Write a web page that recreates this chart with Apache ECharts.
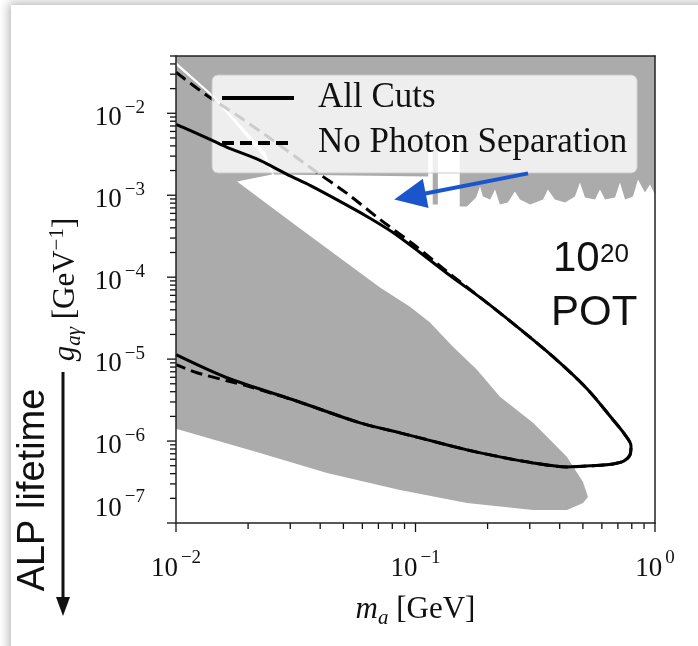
<!DOCTYPE html>
<html>
<head>
<meta charset="utf-8">
<script src="https://cdn.jsdelivr.net/npm/echarts@6/dist/echarts.min.js"></script>
<style>
  html, body { margin: 0; padding: 0; background: #fff; overflow: hidden; }
  .card { position: absolute; left: 11px; top: 5px; width: 760px; height: 720px; background: #fff; box-shadow: 0 0 10px 2px rgba(0,0,0,0.3); }
  #chart { position: absolute; left: 0; top: 0; width: 698px; height: 646px; }
</style>
</head>
<body>
<div class="card"></div>
<div id="chart"></div>
<script>
  // axis ranges and ticks
  const X_MIN = 0.01, X_MAX = 1;
  const Y_MIN = 1e-7, Y_MAX = 0.05;
  const xMajorTicks = [0.01, 0.1, 1];
  const yMajorTicks = [1e-7, 1e-6, 1e-5, 1e-4, 1e-3, 1e-2];

  // sensitivity contours [m_a, g_ay]
  const allCuts = [
    [0.01, 7.34e-3], [0.01144, 6.20e-3], [0.01387, 4.81e-3], [0.01633, 3.84e-3],
    [0.02242, 2.66e-3], [0.02908, 1.796e-3], [0.03627, 1.317e-3], [0.04839, 8.40e-4],
    [0.06272, 5.51e-4], [0.08055, 3.51e-4], [0.1044, 2.00e-4], [0.1393, 1.046e-4],
    [0.1913, 5.32e-5], [0.2653, 2.49e-5], [0.3751, 1.07e-5], [0.5200, 4.35e-6],
    [0.6679, 1.816e-6], [0.7496, 1.191e-6], [0.7940, 8.73e-7], [0.7863, 6.78e-7],
    [0.7424, 5.73e-7], [0.6679, 5.26e-7], [0.5353, 4.98e-7], [0.4291, 4.84e-7],
    [0.3095, 5.41e-7], [0.2253, 6.41e-7], [0.1641, 7.81e-7], [0.1044, 1.094e-6],
    [0.08615, 1.26e-6], [0.05866, 1.669e-6], [0.03080, 3.19e-6], [0.01633, 5.92e-6],
    [0.01, 1.132e-5]
  ];
  const noPhotonSep = [
    [0.01, 0.0317], [0.0136, 0.01613], [0.01798, 9.45e-3], [0.0247, 4.95e-3],
    [0.03879, 1.90e-3], [0.05176, 1.052e-3], [0.07109, 5.06e-4], [0.09952, 2.434e-4],
    [0.1353, 1.171e-4], [0.1913, 5.32e-5], [0.2653, 2.49e-5], [0.3751, 1.07e-5],
    [0.5200, 4.35e-6], [0.6679, 1.816e-6], [0.7496, 1.191e-6], [0.7940, 8.73e-7],
    [0.7863, 6.78e-7], [0.7424, 5.73e-7], [0.6679, 5.26e-7], [0.5353, 4.98e-7],
    [0.4291, 4.84e-7], [0.3095, 5.41e-7], [0.2253, 6.41e-7], [0.1641, 7.81e-7],
    [0.1044, 1.094e-6], [0.08615, 1.26e-6], [0.05866, 1.669e-6], [0.03080, 3.19e-6],
    [0.0247, 3.88e-6], [0.02037, 4.60e-6], [0.01633, 5.45e-6], [0.01224, 6.82e-6],
    [0.01, 8.54e-6]
  ];

  // excluded regions (outlines)
  const upperExcluded = [
    [0.01, 0.05], [1, 0.05], [1, 1.023e-3], [0.953, 1.355e-3], [0.908, 1.082e-3],
    [0.849, 1.56e-3], [0.809, 9.67e-4], [0.750, 8.89e-4], [0.714, 1.434e-3],
    [0.681, 9.40e-4], [0.619, 8.89e-4], [0.589, 1.177e-3], [0.562, 8.89e-4],
    [0.510, 9.40e-4], [0.486, 1.434e-3], [0.463, 9.67e-4], [0.421, 8.17e-4],
    [0.382, 8.89e-4], [0.357, 1.177e-3], [0.341, 8.89e-4], [0.301, 7.72e-4],
    [0.273, 8.89e-4], [0.260, 1.113e-3], [0.243, 8.17e-4], [0.225, 7.72e-4],
    [0.215, 1.177e-3], [0.205, 8.89e-4], [0.191, 9.67e-4], [0.186, 1.281e-3],
    [0.179, 9.40e-4], [0.164, 7.30e-4], [0.153, 7.30e-4], [0.153, 5.54e-3],
    [0.124, 5.54e-3], [0.124, 7.72e-4], [0.118, 7.72e-4], [0.118, 5.54e-3],
    [0.113, 5.54e-3], [0.113, 1.698e-3], [0.0257, 1.796e-3], [0.0235, 3.40e-3],
    [0.0144, 0.01637], [0.01, 0.0421]
  ];
  const beamDumpExcluded = [
    [0.01, 0.0386], [0.0144, 0.01525], [0.02308, 2.98e-3], [0.02517, 1.796e-3],
    [0.01798, 1.475e-3], [0.03294, 3.93e-4], [0.07109, 7.46e-5], [0.09484, 4.37e-5],
    [0.1150, 2.79e-5], [0.1434, 1.418e-5], [0.1806, 7.42e-6], [0.2253, 3.47e-6],
    [0.3095, 1.669e-6], [0.3644, 1.034e-6], [0.4291, 6.41e-7], [0.5004, 3.17e-7],
    [0.5251, 2.08e-7], [0.5004, 1.756e-7], [0.4291, 1.442e-7], [0.3095, 1.442e-7],
    [0.1641, 1.756e-7], [0.08615, 2.53e-7], [0.04271, 4.08e-7], [0.02242, 7.17e-7],
    [0.01, 1.41e-6]
  ];

  // hand drawn blue arrow: tail -> head
  const blueArrow = [[0.295, 1.847e-3], [0.09484, 9.67e-4]];

  const SERIF = 'Liberation Serif';
  const SANS = 'Liberation Sans';
  const GRAY = '#ababab';
  const INK = '#111';

  function minorTicks(majors) {
    const out = [];
    for (const m of majors) for (let k = 2; k <= 9; k++) out.push(+(m * k).toPrecision(3));
    return out;
  }
  const xTicks = xMajorTicks.concat(minorTicks(xMajorTicks)).filter(v => v >= X_MIN && v <= X_MAX);
  const yTicks = yMajorTicks.concat(minorTicks(yMajorTicks)).filter(v => v >= Y_MIN && v <= Y_MAX);
  const isMajor = v => Math.abs(Math.log10(v) - Math.round(Math.log10(v))) < 1e-6;

  function powLabel(v) {
    if (!isMajor(v)) return '';
    const e = Math.round(Math.log10(v));
    const exp = e < 0 ? '\u2212' + (-e) : '' + e;
    // the lowest y label sits a bit higher in the original figure
    if (e === -7) return '{bu|10}{s|' + exp + '}';
    return '{b|10}{s|' + exp + '}';
  }
  const labelRich = {
    b: { fontFamily: SERIF, fontSize: 27, color: INK, lineHeight: 36, verticalAlign: 'bottom' },
    bu: { fontFamily: SERIF, fontSize: 27, color: INK, lineHeight: 77, verticalAlign: 'bottom', padding: [0, 0, 39, 0] },
    s: { fontFamily: SERIF, fontSize: 19, color: INK, verticalAlign: 'top', padding: [3, 0, 0, 3] }
  };
  const nameRich = {
    i: { fontFamily: SERIF, fontStyle: 'italic', fontSize: 31, color: INK, lineHeight: 38 },
    r: { fontFamily: SERIF, fontSize: 31, color: INK, lineHeight: 38 },
    sub: { fontFamily: SERIF, fontStyle: 'italic', fontSize: 21, color: INK, verticalAlign: 'bottom' },
    sup: { fontFamily: SERIF, fontSize: 21, color: INK, verticalAlign: 'top' }
  };

  function regionSeries(name, pts) {
    return {
      type: 'custom', name: name, silent: true, clip: true, z: 1,
      data: pts,
      renderItem(params, api) {
        if (params.dataIndex !== 0) return null;
        const points = [];
        for (let i = 0; i < params.dataInsideLength; i++) {
          points.push(api.coord([api.value(0, i), api.value(1, i)]));
        }
        return { type: 'polygon', shape: { points: points }, style: { fill: GRAY } };
      }
    };
  }

  function tickSeries(name, vals, onX) {
    return {
      type: 'custom', name: name, silent: true, clip: false, z: 5,
      data: vals.map(v => onX ? [v, Y_MIN] : [X_MIN, v]),
      renderItem(params, api) {
        const v = api.value(onX ? 0 : 1);
        const p = api.coord([api.value(0), api.value(1)]);
        const len = isMajor(v) ? 9 : 6;
        const shape = onX
          ? { x1: p[0], y1: p[1], x2: p[0], y2: p[1] + len }
          : { x1: p[0] - len, y1: p[1], x2: p[0], y2: p[1] };
        return { type: 'line', shape: shape, style: { stroke: INK, lineWidth: 1.3 } };
      }
    };
  }

  const chart = echarts.init(document.getElementById('chart'), null, { renderer: 'canvas' });

  const frameAxis = {
    type: 'log', logBase: 10, z: 10,
    axisLine: { show: true, lineStyle: { color: '#222', width: 1.5 } },
    axisTick: { show: false }, axisLabel: { show: false }, splitLine: { show: false }
  };

  const option = {
    backgroundColor: 'transparent',
    animation: false,
    grid: { left: 176, right: 43, top: 56, bottom: 123, outerBoundsMode: 'none' },
    legend: {
      data: ['All Cuts', 'No Photon Separation'],
      orient: 'vertical', left: 212, top: 75,
      itemWidth: 72, itemHeight: 14, itemGap: 9,
      padding: [5, 10, 12, 8],
      backgroundColor: 'rgba(255,255,255,0.8)',
      borderColor: 'rgba(200,200,200,0.9)', borderWidth: 1, borderRadius: 6,
      selectedMode: false,
      itemStyle: { opacity: 0 },
      lineStyle: { width: 4 },
      textStyle: { fontFamily: SERIF, fontSize: 35, color: INK, lineHeight: 36, padding: [0, 0, 0, 19] }
    },
    xAxis: [
      Object.assign({}, frameAxis, {
        min: X_MIN, max: X_MAX, position: 'bottom',
        axisLabel: { show: true, margin: 23, formatter: powLabel, rich: labelRich },
        name: '{i|m}{sub|a}{r| [GeV]}', nameLocation: 'middle', nameGap: 68, nameMoveOverlap: false,
        nameTextStyle: { rich: nameRich }
      }),
      Object.assign({}, frameAxis, { min: X_MIN, max: X_MAX, position: 'top' })
    ],
    yAxis: [
      Object.assign({}, frameAxis, {
        min: Y_MIN, max: Y_MAX, position: 'left',
        axisLabel: { show: true, margin: 31, formatter: powLabel, rich: labelRich },
        name: '{i|g}{sub|a\u03b3}{r| [GeV}{sup|\u22121}{r|]}', nameLocation: 'middle', nameGap: 91, nameMoveOverlap: false,
        nameTextStyle: { rich: nameRich }
      }),
      Object.assign({}, frameAxis, { min: Y_MIN, max: Y_MAX, position: 'right' })
    ],
    series: [
      regionSeries('upper', upperExcluded),
      regionSeries('beamdump', beamDumpExcluded),
      {
        name: 'No Photon Separation', type: 'line', data: noPhotonSep,
        symbol: 'none', smooth: 0.3, z: 3,
        itemStyle: { color: '#000' },
        lineStyle: { color: '#000', width: 3, type: [12, 6] }
      },
      {
        name: 'All Cuts', type: 'line', data: allCuts,
        symbol: 'none', smooth: 0.3, z: 4,
        itemStyle: { color: '#000' },
        lineStyle: { color: '#000', width: 3 },
        markLine: {
          silent: true, symbol: ['none', 'triangle'], symbolSize: [30, 32],
          label: { show: false },
          lineStyle: { color: '#1a55cc', width: 4, type: 'solid' },
          data: [[{ coord: blueArrow[0] }, { coord: blueArrow[1] }]]
        }
      },
      tickSeries('xticks', xTicks, true),
      tickSeries('yticks', yTicks, false)
    ],
    graphic: [
      { type: 'text', x: 553, y: 259, style: { text: '10', fontFamily: SANS, fontSize: 42, fill: INK, align: 'left', verticalAlign: 'middle' } },
      { type: 'text', x: 600, y: 255, style: { text: '20', fontFamily: SANS, fontSize: 26, fill: INK, align: 'left', verticalAlign: 'middle' } },
      { type: 'text', x: 551, y: 313, style: { text: 'POT', fontFamily: SANS, fontSize: 42, fill: INK, align: 'left', verticalAlign: 'middle' } },
      { type: 'text', x: 34, y: 490, rotation: Math.PI / 2, style: { text: 'ALP lifetime', fontFamily: SANS, fontSize: 38, fill: INK, align: 'center', verticalAlign: 'middle' } },
      { type: 'line', shape: { x1: 63, y1: 372, x2: 63, y2: 600 }, style: { stroke: INK, lineWidth: 3 } },
      { type: 'polygon', shape: { points: [[56, 597], [70, 597], [63, 616]] }, style: { fill: INK } }
    ]
  };
  chart.setOption(option);
</script>
</body>
</html>
